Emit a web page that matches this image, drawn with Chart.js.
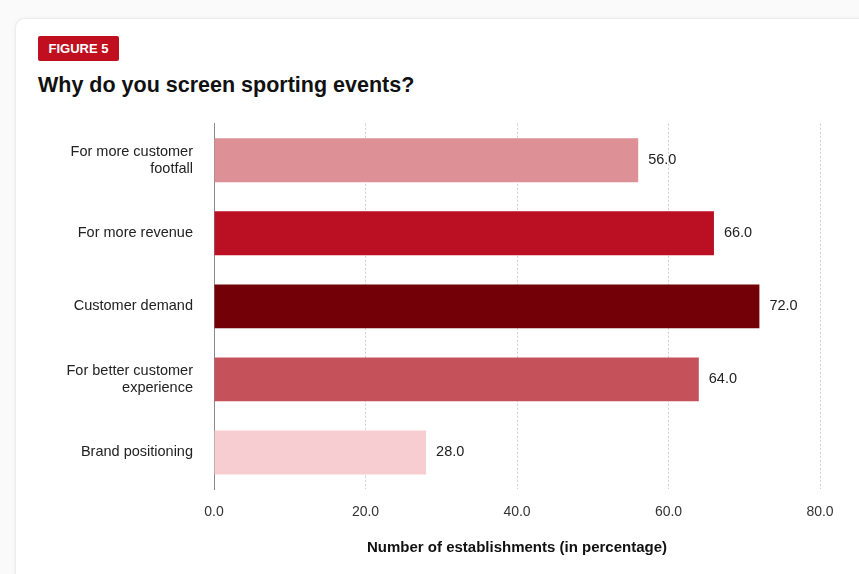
<!DOCTYPE html>
<html>
<head>
<meta charset="utf-8">
<script src="https://cdn.jsdelivr.net/npm/chart.js@4.4.1/dist/chart.umd.min.js"></script>
<style>
  body { margin: 0; background: #fafafa; font-family: "Liberation Sans", Arial, sans-serif; }
  .card {
    position: absolute; left: 15px; top: 18px; width: 860px; height: 570px;
    background: #fff; border: 1px solid #ececec; border-radius: 10px;
    box-shadow: 0 0 4px rgba(0,0,0,0.05);
  }
  .badge {
    position: absolute; left: 38px; top: 36px; width: 81px; height: 25px;
    background: #c0101f; color: #fff; font-weight: bold; font-size: 13px;
    line-height: 25px; text-align: center; border-radius: 2px;
  }
  h1 {
    position: absolute; left: 38px; top: 73px; margin: 0;
    font-size: 21.5px; font-weight: bold; color: #111;
  }
  .wrap { position: absolute; left: 0; top: 94px; width: 859px; height: 480px; }
</style>
</head>
<body>
<div class="card"></div>
<div class="badge">FIGURE 5</div>
<h1>Why do you screen sporting events?</h1>
<div class="wrap"><canvas id="myChart"></canvas></div>
<script>
// reasons and share of establishments
const reasons = [
  ["For more customer", "footfall"],
  "For more revenue",
  "Customer demand",
  ["For better customer", "experience"],
  "Brand positioning"
];
const shares = [56, 66, 72, 64, 28];
const barColors = ["#dd9096", "#bb0f23", "#720006", "#c5525b", "#f8cdd1"];
const xTicks = [0, 20, 40, 60, 80];

const FONT = "'Liberation Sans', Arial, sans-serif";

// writes the value just past the end of each bar
const valueLabels = {
  id: "valueLabels",
  afterDatasetsDraw(chart) {
    const ctx = chart.ctx;
    const meta = chart.getDatasetMeta(0);
    ctx.save();
    ctx.font = "14.5px " + FONT;
    ctx.fillStyle = "#222";
    ctx.textBaseline = "middle";
    meta.data.forEach((bar, i) => {
      ctx.fillText(shares[i].toFixed(1), bar.x + 10, bar.y);
    });
    ctx.restore();
  }
};

const data = {
  labels: reasons,
  datasets: [
    {
      data: shares,
      backgroundColor: barColors,
      barPercentage: 0.6,
      categoryPercentage: 1.0,
    },
  ],
};

const config = {
  type: "bar",
  data,
  plugins: [valueLabels],
  options: {
    indexAxis: "y",
    responsive: true,
    maintainAspectRatio: false,
    animation: false,
    layout: { padding: { left: 0, right: 39, top: 16, bottom: 10 } },
    plugins: {
      legend: { display: false },
      tooltip: { enabled: false },
    },
    scales: {
      x: {
        min: 0,
        max: 80,
        afterBuildTicks(scale) {
          scale.ticks = xTicks.map((v) => ({ value: v }));
        },
        afterFit(scale) {
          scale.height = 75;
        },
        ticks: {
          padding: 15,
          color: "#333",
          font: { size: 14, family: FONT },
          callback: (v) => Number(v).toFixed(1),
        },
        grid: {
          color: "#cfcfcf",
          drawTicks: false,
        },
        border: { display: false, dash: [2, 2] },
        title: {
          display: true,
          text: "Number of establishments (in percentage)",
          color: "#111",
          font: { size: 15, weight: "bold", family: FONT },
          padding: { top: 0, bottom: 7 },
        },
      },
      y: {
        afterFit(scale) {
          scale.width = 214;
        },
        ticks: {
          padding: 21,
          color: "#222",
          font: { size: 14.5, family: FONT },
        },
        grid: { display: false, drawTicks: false },
        border: { display: true, color: "#8a8a8a", width: 1 },
      },
    },
  },
};

const myChart = new Chart(document.getElementById("myChart"), config);
</script>
</body>
</html>
